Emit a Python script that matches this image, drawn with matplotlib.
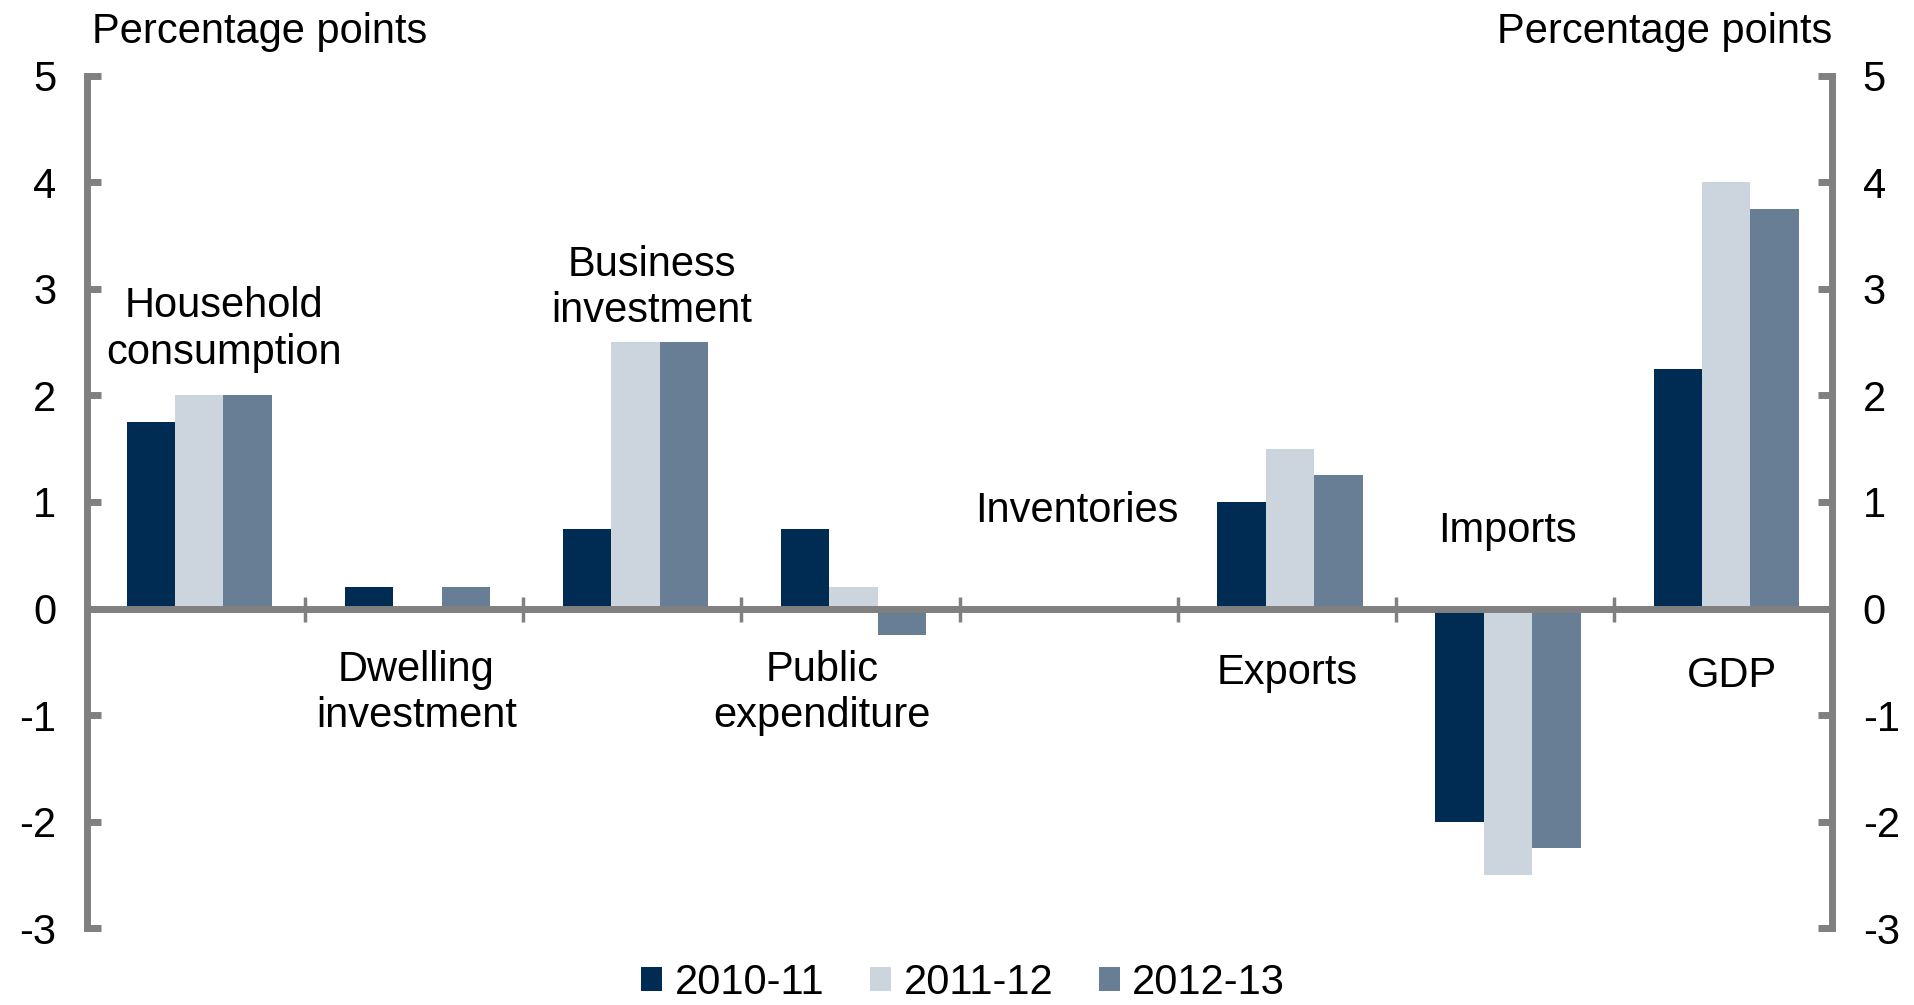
import numpy as np
import matplotlib.pyplot as plt

# contributions to GDP growth, percentage points
categories = ['Household\nconsumption', 'Dwelling\ninvestment', 'Business\ninvestment',
              'Public\nexpenditure', 'Inventories', 'Exports', 'Imports', 'GDP']
years = ['2010-11', '2011-12', '2012-13']
y2010_11 = [1.75, 0.2, 0.75, 0.75, 0.0, 1.0, -2.0, 2.25]
y2011_12 = [2.0, 0.0, 2.5, 0.2, 0.0, 1.5, -2.5, 4.0]
y2012_13 = [2.0, 0.2, 2.5, -0.25, 0.0, 1.25, -2.25, 3.75]
yticks = [-3, -2, -1, 0, 1, 2, 3, 4, 5]

colors = ['#002B52', '#CCD4DD', '#677E95']
grey = '#808080'

plt.rcParams['font.family'] = ['Liberation Sans', 'DejaVu Sans']
plt.rcParams['axes.unicode_minus'] = False

fig = plt.figure(figsize=(19.15, 10.05), dpi=100)
ax = fig.add_axes([0.0454, 0.0766, 0.9113, 0.8478])

x = np.arange(len(categories))
w = 0.222
for i, vals in enumerate([y2010_11, y2011_12, y2012_13]):
    ax.bar(x + 0.015 + (i - 1) * w, vals, w, color=colors[i], label=years[i], zorder=2)

# category names sit next to the bars rather than on the axis
label_pos = [(0.13, 2.62), (1.01, -0.79), (2.09, 3.01), (2.87, -0.79),
             (4.04, 0.92), (5.0, -0.61), (6.01, 0.73), (7.04, -0.63)]
for name, (lx, ly) in zip(categories, label_pos):
    ax.text(lx, ly, name, ha='center', va='center', fontsize=30,
            linespacing=1.2)

ax.set_xlim(-0.5, 7.5)
ax.set_ylim(-3, 5)

ax.spines['top'].set_visible(False)
ax.spines['bottom'].set_position(('data', 0))
for s in ['left', 'right', 'bottom']:
    ax.spines[s].set_color(grey)
    ax.spines[s].set_linewidth(5)

ax.set_xticks(x[:-1] + 0.5)
ax.tick_params(axis='x', direction='inout', length=18, width=2.5, color=grey,
               labelbottom=False)
ax.set_yticks(yticks)
ax.set_yticklabels([str(t) for t in yticks])
ax.tick_params(axis='y', direction='in', length=10, width=5, color=grey,
               left=True, right=True, labelleft=True, labelright=True,
               labelsize=30, pad=22)

fig.text(0.048, 0.957, 'Percentage points', ha='left', va='baseline', fontsize=30)
fig.text(0.9567, 0.957, 'Percentage points', ha='right', va='baseline', fontsize=30)

fig.legend(loc='center', bbox_to_anchor=(0.503, 0.022), ncol=3, frameon=False,
           fontsize=30, handlelength=0.5, handleheight=0.48, handletextpad=0.3,
           columnspacing=1.1, borderaxespad=0, borderpad=0)

fig.savefig('out.png', dpi=100)
